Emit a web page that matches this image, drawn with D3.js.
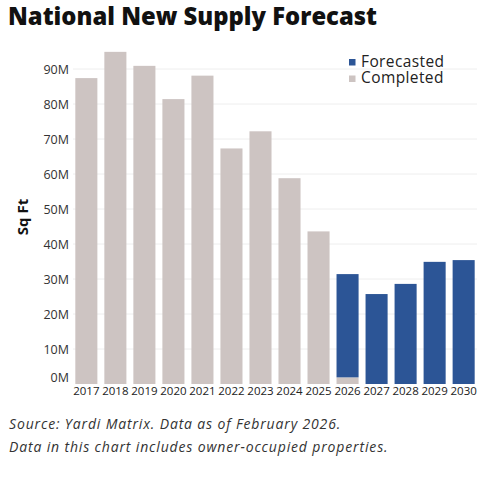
<!DOCTYPE html>
<html>
<head>
<meta charset="utf-8">
<script src="https://cdn.jsdelivr.net/npm/d3@7"></script>
<style>
  body { margin: 0; background: #fff; }
  text { font-family: "Open Sans", "Lato", sans-serif; }
</style>
</head>
<body>
<svg width="503" height="488"></svg>
<script>
const years = ["2017", "2018", "2019", "2020", "2021", "2022", "2023", "2024", "2025", "2026", "2027", "2028", "2029", "2030"];
const completed = [87.4, 94.9, 90.9, 81.4, 88.1, 67.3, 72.2, 58.8, 43.6, 1.9, 0, 0, 0, 0];
const forecasted = [0, 0, 0, 0, 0, 0, 0, 0, 0, 29.5, 25.7, 28.6, 34.9, 35.4];
const yTicks = [0, 10, 20, 30, 40, 50, 60, 70, 80, 90];
const legendLabels = ["Forecasted", "Completed"];

const svg = d3.select("svg");
const colors = { Completed: "#cdc4c2", Forecasted: "#2c5596" };

const x = d3.scaleBand().domain(years).range([73, 477]).paddingInner(0.24).paddingOuter(0.08);
const y = d3.scaleLinear().domain([0, 90]).range([384, 69]);

// title
svg.append("text")
  .attr("x", 8).attr("y", 25)
  .attr("font-size", 23.8).attr("font-weight", 800)
  .attr("fill", "#111")
  .text("National New Supply Forecast");

// gridlines
svg.append("g").selectAll("line")
  .data(yTicks.filter(d => d > 0))
  .enter().append("line")
  .attr("x1", 73).attr("x2", 477)
  .attr("y1", d => y(d)).attr("y2", d => y(d))
  .attr("stroke", "#eeeeee");

// y labels
svg.append("g").selectAll("text")
  .data(yTicks)
  .enter().append("text")
  .attr("x", 69)
  .attr("y", d => d === 0 ? y(d) - 2 : y(d) + 4.5)
  .attr("text-anchor", "end")
  .attr("font-size", 12.5)
  .attr("fill", "#333")
  .text(d => d + "M");

svg.append("text")
  .attr("transform", "translate(28,217) rotate(-90)")
  .attr("text-anchor", "middle")
  .attr("font-size", 15).attr("font-weight", 700)
  .attr("fill", "#111")
  .text("Sq Ft");

// bars
const stack = years.map((yr, i) => ({ year: yr, c: completed[i], f: forecasted[i] }));

svg.append("g").selectAll("rect.comp")
  .data(stack)
  .enter().append("rect")
  .attr("x", d => x(d.year))
  .attr("width", x.bandwidth())
  .attr("y", d => y(d.c))
  .attr("height", d => y(0) - y(d.c))
  .attr("fill", colors.Completed);

svg.append("g").selectAll("rect.fore")
  .data(stack.filter(d => d.f > 0))
  .enter().append("rect")
  .attr("x", d => x(d.year))
  .attr("width", x.bandwidth())
  .attr("y", d => y(d.c + d.f))
  .attr("height", d => y(d.c) - y(d.c + d.f))
  .attr("fill", colors.Forecasted);

// x labels
svg.append("g").selectAll("text")
  .data(years)
  .enter().append("text")
  .attr("x", d => x(d) + x.bandwidth() / 2)
  .attr("y", 395)
  .attr("text-anchor", "middle")
  .attr("font-size", 11.5)
  .attr("fill", "#222")
  .text(d => d);

// legend
const legend = svg.append("g").attr("transform", "translate(349,59)");
legend.selectAll("rect")
  .data(legendLabels)
  .enter().append("rect")
  .attr("x", 0).attr("y", (d, i) => i * 16.5)
  .attr("width", 6.5).attr("height", 6.5)
  .attr("fill", d => colors[d]);
legend.append("text")
  .attr("font-size", 15.5)
  .attr("letter-spacing", 0.4)
  .attr("fill", "#222")
  .selectAll("tspan")
  .data(legendLabels)
  .enter().append("tspan")
  .attr("x", 12).attr("y", (d, i) => i * 16.5 + 7.5)
  .text(d => d);

// footnotes
const notes = ["Source: Yardi Matrix. Data as of February 2026.", "Data in this chart includes owner-occupied properties."];
svg.append("g").selectAll("text")
  .data(notes)
  .enter().append("text")
  .attr("x", 9).attr("y", (d, i) => 429 + i * 22.5)
  .attr("font-size", 14).attr("font-style", "italic")
  .attr("letter-spacing", 0.85)
  .attr("fill", "#333")
  .text(d => d);
</script>
</body>
</html>
